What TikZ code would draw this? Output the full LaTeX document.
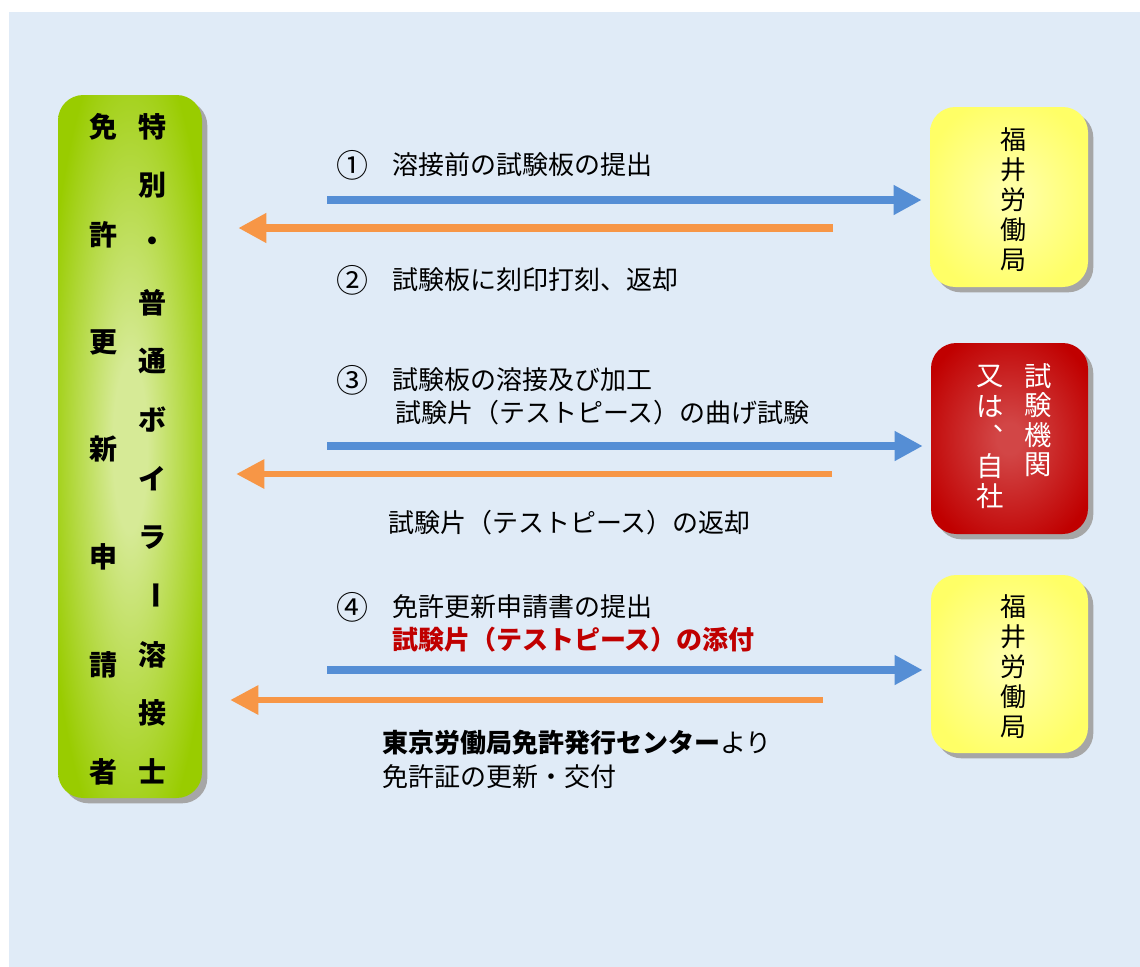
\documentclass[tikz,border=0pt]{standalone}
\usepackage{fontspec}
\setmainfont{Noto Sans CJK JP}
\usetikzlibrary{arrows.meta,shadows}

\definecolor{bgblue}{RGB}{224,235,247}
\definecolor{sendblue}{RGB}{85,142,213}
\definecolor{returnorange}{RGB}{247,150,70}
\definecolor{notered}{RGB}{192,0,0}
\definecolor{boxgreen}{RGB}{153,204,0}
\definecolor{boxgreenlight}{RGB}{214,234,150}
\definecolor{boxyellow}{RGB}{255,255,102}
\definecolor{boxyellowlight}{RGB}{255,255,165}
\definecolor{boxred}{RGB}{192,0,0}
\definecolor{boxredlight}{RGB}{210,70,70}

% glow from the middle of a box towards its border
\pgfdeclareradialshading{greenglow}{\pgfpoint{0bp}{0bp}}{color(0bp)=(boxgreenlight); color(6bp)=(boxgreenlight); color(30bp)=(boxgreen); color(50bp)=(boxgreen)}
\pgfdeclareradialshading{yellowglow}{\pgfpoint{0bp}{0bp}}{color(0bp)=(boxyellowlight); color(4bp)=(boxyellowlight); color(28bp)=(boxyellow); color(50bp)=(boxyellow)}
\pgfdeclareradialshading{redglow}{\pgfpoint{0bp}{0bp}}{color(0bp)=(boxredlight); color(4bp)=(boxredlight); color(30bp)=(boxred); color(50bp)=(boxred)}

\begin{document}
\begin{tikzpicture}[x=0.75pt, y=-0.75pt,
      panel/.style={rounded corners=19pt, inner sep=0pt, shade,
         general shadow={fill=black!35, shadow xshift=4pt, shadow yshift=-4pt}},
      steptext/.style={anchor=west, inner sep=0pt, font=\fontsize{19.5}{24}\selectfont},
      numtext/.style={anchor=west, inner sep=0pt, font=\fontsize{24}{24}\selectfont},
      sidetext/.style={inner sep=0pt, font=\fontsize{21}{24}\selectfont\bfseries},
      boxtext/.style={inner sep=0pt, align=center, font=\fontsize{19.5}{22.5}\selectfont},
      labtext/.style={inner sep=0pt, text=white, font=\fontsize{20.5}{24}\selectfont},
      sendarrow/.style={draw=sendblue, line width=6pt,
         -{Triangle[length=21pt,width=21pt]}, shorten >=6pt},
      returnarrow/.style={draw=returnorange, line width=#1,
         -{Triangle[length=21pt,width=21pt]}},
      returnarrow/.default=6pt]

   \fill[white] (0,0) rectangle (1140,967);
   \fill[bgblue] (9,12) rectangle (1140,967);
   \useasboundingbox (0,0) rectangle (1140,967);

   % boxes
   \node[panel, shading=greenglow, minimum width=108pt, minimum height=527.25pt] (applicant) at (130,446.5) {};
   \node[panel, shading=yellowglow, minimum width=118.5pt, minimum height=135pt] (bureauA) at (1009,197) {};
   \node[panel, shading=redglow, minimum width=117.75pt, minimum height=143.25pt] (testlab) at (1009.5,438.5) {};
   \node[panel, shading=yellowglow, minimum width=117.75pt, minimum height=133.5pt] (bureauB) at (1009.5,664) {};

   % vertical texts
   \foreach \ch [count=\i from 0] in {免,許,更,新,申,請,者} {
      \node[sidetext] (outer\i) at (103, 127+107.5*\i) {\ch};
   }
   \foreach \ch / \r [count=\i from 0] in {特/0,別/0,・/0,普/0,通/0,ボ/0,イ/0,ラ/0,ー/-90,溶/0,接/0,士/0} {
      \node[sidetext, rotate=\r] (inner\i) at (152, 127+58.6*\i) {\ch};
   }
   \node[boxtext] (bureauAname) at (1013,200) {福\\井\\労\\働\\局};
   \node[boxtext] (bureauBname) at (1013,667) {福\\井\\労\\働\\局};
   \foreach \ch [count=\i from 0] in {試,験,機,関} {
      \node[labtext] (labA\i) at (1038, 376+29.5*\i) {\ch};
   }
   \foreach \ch [count=\i from 0] in {又,は,︑,自,社} {
      \node[labtext] (labB\i) at (990, 376+30*\i) {\ch};
   }

   % step texts
   \node[numtext] (num1) at (336,165) {①};
   \node[steptext] (step1) at (392,165) {溶接前の試験板の提出};
   \node[numtext] (num2) at (336,280) {②};
   \node[steptext] (step2) at (392,280) {試験板に刻印打刻、返却};
   \node[numtext] (num3) at (336,380) {③};
   \node[steptext] (step3a) at (392,380) {試験板の溶接及び加工};
   \node[steptext] (step3b) at (395,413) {試験片（テストピース）の曲げ試験};
   \node[steptext] (step3c) at (388,523) {試験片（テストピース）の返却};
   \node[numtext] (num4) at (336,607) {④};
   \node[steptext] (step4a) at (392,607) {免許更新申請書の提出};
   \node[steptext, text=notered] (step4b) at (392,640) {\bfseries 試験片（テストピース）の添付};
   \node[steptext] (step4c) at (382,743) {{\bfseries 東京労働局免許発行センター}より};
   \node[steptext] (step4d) at (382,777) {免許証の更新・交付};

   % arrows
   \foreach \i / \y / \dest in {1/200/bureauA, 2/446/testlab, 3/670/bureauB} {
      \coordinate (send\i) at (327,\y);
      \draw[sendarrow] (send\i) -- (send\i -| \dest.west);
   }
   \foreach \i / \x / \y / \lw / \sh in {1/833/228/6pt/27pt, 2/832/474/4.5pt/25.5pt, 3/823/700/4.5pt/21pt} {
      \coordinate (back\i) at (\x,\y);
      \draw[returnarrow=\lw, shorten >=\sh] (back\i) -- (back\i -| applicant.east);
   }
\end{tikzpicture}
\end{document}
